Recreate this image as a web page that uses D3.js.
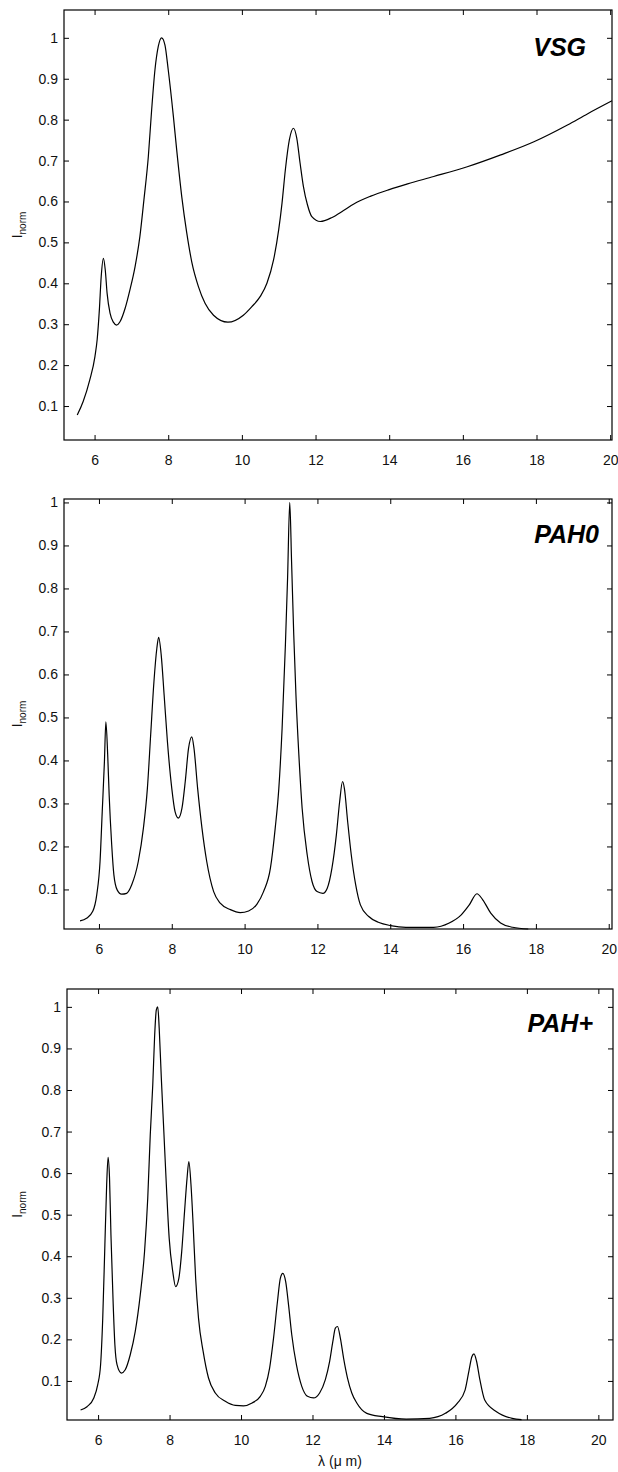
<!DOCTYPE html>
<html>
<head>
<meta charset="utf-8">
<script src="https://cdn.jsdelivr.net/npm/d3@7"></script>
<style>
  html, body { margin: 0; padding: 0; background: #fff; }
  svg { display: block; }
  .tick text { font-family: "Liberation Sans", Arial, sans-serif; font-size: 14px; fill: #111; }
  .axis path { display: none; }
  .axis line { stroke: #000; stroke-width: 1; }
</style>
</head>
<body>
<div id="chart"></div>
<script>
// [lambda (um), I_norm]
const vsg = [
  [5.53, .078], [5.69, .111], [5.87, .164], [6.01, .221], [6.07, .262], [6.13, .335], [6.18, .416],
  [6.24, .461], [6.29, .433], [6.34, .376], [6.42, .327], [6.51, .305], [6.60, .298], [6.69, .306],
  [6.83, .339], [6.96, .384], [7.10, .441], [7.23, .514], [7.34, .604], [7.46, .710], [7.55, .824],
  [7.64, .922], [7.73, .979], [7.82, 1.0], [7.91, .983], [8.00, .922], [8.14, .808], [8.23, .726],
  [8.37, .610], [8.50, .525], [8.64, .452], [8.82, .392], [9.00, .351], [9.23, .322], [9.62, .305],
  [10.04, .322], [10.27, .343], [10.50, .368], [10.68, .400], [10.86, .457], [11.00, .531],
  [11.09, .596], [11.18, .677], [11.29, .751], [11.40, .779], [11.49, .755], [11.58, .694], [11.67, .637],
  [11.78, .592], [11.90, .563], [12.13, .551], [12.45, .561], [12.76, .578], [13.04, .594],
  [13.5, .613], [14.0, .629], [14.5, .643], [15.21, .661], [16.12, .685], [17.03, .714], [17.93, .746],
  [18.84, .787], [19.38, .814], [20.05, .846]
];

const pah0 = [
  [5.48, .027], [5.66, .033], [5.83, .049], [5.94, .088], [6.03, .165], [6.09, .281], [6.15, .397],
  [6.19, .490], [6.24, .413], [6.28, .320], [6.35, .204], [6.41, .134], [6.50, .099], [6.62, .089],
  [6.76, .091], [6.90, .111], [7.08, .165], [7.22, .242], [7.33, .335], [7.42, .459], [7.51, .583],
  [7.59, .661], [7.64, .686], [7.71, .645], [7.79, .552], [7.88, .444], [8.00, .335], [8.09, .281],
  [8.18, .266], [8.28, .289], [8.37, .351], [8.46, .428], [8.55, .455], [8.61, .428], [8.71, .335],
  [8.83, .242], [8.96, .165], [9.15, .095], [9.33, .068], [9.61, .053], [9.88, .046], [10.11, .050],
  [10.34, .066], [10.52, .095], [10.71, .150], [10.84, .242], [10.94, .335], [11.03, .475], [11.12, .668],
  [11.18, .823], [11.24, 1.0], [11.29, .862], [11.35, .692], [11.41, .552], [11.49, .413], [11.58, .289],
  [11.72, .180], [11.85, .119], [11.99, .095], [12.15, .091], [12.27, .103], [12.40, .150], [12.52, .227],
  [12.61, .304], [12.69, .351], [12.74, .335], [12.83, .258], [12.93, .180], [13.05, .111], [13.18, .064],
  [13.41, .037], [13.69, .023], [14.01, .016], [14.43, .012], [15.19, .012], [15.62, .022], [15.95, .041],
  [16.17, .064], [16.38, .090], [16.54, .076], [16.76, .045], [17.03, .022], [17.36, .012], [17.79, .008]
];

const pahPlus = [
  [5.51, .030], [5.69, .038], [5.88, .059], [5.99, .091], [6.07, .139], [6.13, .251], [6.19, .427],
  [6.24, .572], [6.28, .638], [6.32, .588], [6.36, .451], [6.42, .291], [6.47, .187], [6.53, .139],
  [6.65, .119], [6.76, .127], [6.90, .163], [7.04, .219], [7.18, .307], [7.30, .411], [7.39, .540],
  [7.46, .692], [7.53, .812], [7.58, .925], [7.63, .993], [7.67, 1.0], [7.71, .949], [7.77, .828],
  [7.84, .700], [7.91, .572], [7.99, .443], [8.09, .363], [8.17, .327], [8.26, .347], [8.34, .411],
  [8.42, .508], [8.49, .588], [8.54, .628], [8.60, .572], [8.66, .476], [8.73, .347], [8.81, .251],
  [8.94, .171], [9.09, .107], [9.28, .071], [9.56, .051], [9.84, .041], [10.07, .040], [10.31, .047],
  [10.54, .063], [10.68, .087], [10.80, .131], [10.91, .203], [11.02, .291], [11.10, .347], [11.17, .359],
  [11.25, .339], [11.33, .283], [11.42, .211], [11.55, .139], [11.70, .087], [11.86, .063], [12.03, .059],
  [12.20, .071], [12.36, .103], [12.48, .147], [12.57, .195], [12.64, .227], [12.70, .231], [12.78, .203],
  [12.87, .155], [12.98, .107], [13.10, .071], [13.24, .047], [13.52, .022], [13.96, .014], [14.62, .008],
  [15.28, .010], [15.72, .022], [16.05, .046], [16.27, .078], [16.38, .125], [16.46, .158], [16.52, .165],
  [16.59, .148], [16.68, .105], [16.82, .054], [17.15, .026], [17.59, .010], [17.85, .007]
];

const seriesNames = [`VSG`, `PAH0`, `PAH+`];
const xTicks = [6, 8, 10, 12, 14, 16, 18, 20];
const yTicks = [0.1, 0.2, 0.3, 0.4, 0.5, 0.6, 0.7, 0.8, 0.9, 1];

const width = 618, height = 1472;

// each panel: box in page pixels + axis ranges
const panels = [
  { data: vsg, name: seriesNames[0], left: 64, right: 612, top: 10, bottom: 440,
    xDom: [5.17, 20.05], yDom: [0.017, 1.068], labelRight: 26, labelBase: 46 },
  { data: pah0, name: seriesNames[1], left: 64, right: 612, top: 499, bottom: 929,
    xDom: [5.04, 20.09], yDom: [0.008, 1.008], labelRight: 13, labelBase: 44 },
  { data: pahPlus, name: seriesNames[2], left: 67, right: 613, top: 989, bottom: 1420,
    xDom: [5.13, 20.41], yDom: [0.006, 1.043], labelRight: 20, labelBase: 43 }
];

const svg = d3.select(`#chart`).append(`svg`)
  .attr(`width`, width)
  .attr(`height`, height);

svg.append(`rect`).attr(`width`, width).attr(`height`, height).attr(`fill`, `#fff`);

const font = `"Liberation Sans", Arial, sans-serif`;

panels.forEach((p) => {
  const x = d3.scaleLinear().domain(p.xDom).range([p.left, p.right]);
  const y = d3.scaleLinear().domain(p.yDom).range([p.bottom, p.top]);
  const g = svg.append(`g`);

  g.append(`g`).attr(`class`, `axis`)
    .attr(`transform`, `translate(0,${p.bottom})`)
    .call(d3.axisBottom(x).tickValues(xTicks).tickFormat(d3.format(`d`)).tickSizeInner(-5).tickSizeOuter(0).tickPadding(15));

  g.append(`g`).attr(`class`, `axis`)
    .attr(`transform`, `translate(0,${p.top})`)
    .call(d3.axisTop(x).tickValues(xTicks).tickFormat(``).tickSizeInner(-5).tickSizeOuter(0));

  g.append(`g`).attr(`class`, `axis`)
    .attr(`transform`, `translate(${p.left},0)`)
    .call(d3.axisLeft(y).tickValues(yTicks).tickFormat((d) => d === 1 ? `1` : d3.format(`.1f`)(d)).tickSizeInner(-5).tickSizeOuter(0).tickPadding(6));

  g.append(`g`).attr(`class`, `axis`)
    .attr(`transform`, `translate(${p.right},0)`)
    .call(d3.axisRight(y).tickValues(yTicks).tickFormat(``).tickSizeInner(-5).tickSizeOuter(0));

  g.append(`rect`)
    .attr(`x`, p.left).attr(`y`, p.top)
    .attr(`width`, p.right - p.left).attr(`height`, p.bottom - p.top)
    .attr(`fill`, `none`).attr(`stroke`, `#000`).attr(`stroke-width`, 1.2);

  const line = d3.line()
    .x((d) => x(d[0]))
    .y((d) => y(d[1]))
    .curve(d3.curveMonotoneX);

  g.append(`path`)
    .datum(p.data)
    .attr(`d`, line)
    .attr(`fill`, `none`)
    .attr(`stroke`, `#000`)
    .attr(`stroke-width`, 1.2);

  g.append(`text`)
    .attr(`x`, p.right - p.labelRight)
    .attr(`y`, p.top + p.labelBase)
    .attr(`text-anchor`, `end`)
    .style(`font-family`, font)
    .style(`font-size`, `25px`)
    .style(`font-weight`, `bold`)
    .style(`font-style`, `italic`)
    .text(p.name);

  // y label: I with "norm" subscript
  const ylab = g.append(`text`)
    .attr(`transform`, `translate(22,${(p.top + p.bottom) / 2}) rotate(-90)`)
    .attr(`text-anchor`, `middle`)
    .style(`font-family`, font)
    .style(`font-size`, `14px`)
    .style(`fill`, `#111`);
  ylab.append(`tspan`).text(`I`);
  ylab.append(`tspan`).attr(`dy`, 4).style(`font-size`, `10px`).text(`norm`);
});

const last = panels[2];
svg.append(`text`)
  .attr(`x`, (last.left + last.right) / 2)
  .attr(`y`, 1466)
  .attr(`text-anchor`, `middle`)
  .style(`font-family`, font)
  .style(`font-size`, `14px`)
  .style(`fill`, `#111`)
  .text(`λ (μ m)`);
</script>
</body>
</html>
